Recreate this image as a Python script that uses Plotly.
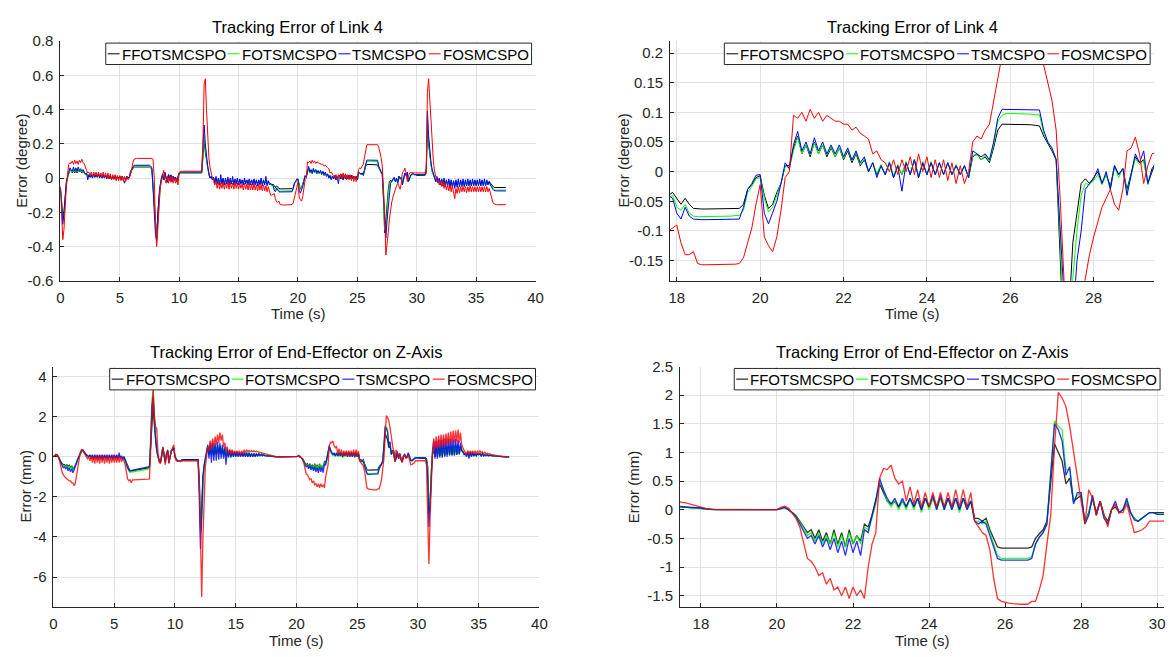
import numpy as np
import plotly.graph_objects as go

W, H = 1173, 657
FONT = "Liberation Sans, Arial, sans-serif"

# ---------------- data ----------------
# sampling instants (s), 0.0 ... 37.5 every 0.1 s
time_s = np.round(np.arange(376) * 0.1, 1)

series_names = ["FFOTSMCSPO", "FOTSMCSPO", "TSMCSPO", "FOSMCSPO"]
series_colors = ["#000000", "#00ff00", "#0000ff", "#ff0000"]

# Tracking error of link 4 (degree), one row per second
link4_ffotsmcspo = [
    -0.05, -0.15, -0.22, -0.20, -0.10, -0.03, 0.00, 0.02, 0.05, 0.04,
    0.03, 0.05, 0.03, 0.045, 0.03, 0.05, 0.035, 0.045, 0.03, 0.04,
    0.03, 0.02, 0.025, 0.01, 0.015, 0.005, 0.015, 0.005, 0.02, 0.005,
    0.015, 0.005, 0.02, 0.005, 0.015, 0.0, 0.015, 0.005, 0.015, 0.0,
    0.015, 0.0, 0.01, -0.005, 0.01, 0.0, 0.01, -0.005, 0.01, 0.0,
    0.01, -0.005, 0.01, -0.005, 0.005, -0.01, 0.01, 0.0, 0.005, 0.03,
    0.045, 0.055, 0.065, 0.065, 0.065, 0.065, 0.065, 0.065, 0.065, 0.065,
    0.065, 0.065, 0.065, 0.065, 0.065, 0.065, 0.06, 0.05, -0.05, -0.15,
    -0.28, -0.35, -0.2, -0.1, -0.05, 0.0, 0.02, -0.01, 0.03, 0.0,
    -0.02, 0.02, -0.01, 0.015, -0.02, 0.01, -0.01, 0.0, -0.02, 0.005,
    0.025, 0.03, 0.03, 0.03, 0.03, 0.03, 0.03, 0.03, 0.03, 0.03,
    0.03, 0.03, 0.03, 0.03, 0.03, 0.03, 0.03, 0.03, 0.03, 0.03,
    0.12, 0.22, 0.15, 0.1, 0.05, 0.02, 0.0, 0.01, -0.01, 0.0,
    -0.02, 0.0, -0.025, -0.005, -0.03, -0.01, -0.025, -0.005, -0.03, -0.01,
    -0.025, -0.005, -0.03, -0.01, -0.025, -0.01, -0.03, -0.01, -0.025, -0.01,
    -0.03, -0.01, -0.025, -0.015, -0.03, -0.01, -0.025, -0.015, -0.03, -0.01,
    -0.03, -0.015, -0.03, -0.01, -0.03, -0.015, -0.035, -0.015, -0.03, -0.01,
    -0.035, -0.015, -0.03, -0.015, -0.035, -0.02, -0.03, -0.035, -0.04, -0.035,
    -0.045, -0.055, -0.045, -0.055, -0.062, -0.063, -0.063, -0.063, -0.063, -0.063,
    -0.063, -0.063, -0.063, -0.063, -0.063, -0.062, -0.055, -0.03, -0.022, -0.01,
    -0.007, -0.04, -0.062, -0.055, -0.035, -0.02, 0.01, 0.01, 0.04, 0.06,
    0.03, 0.045, 0.025, 0.05, 0.03, 0.045, 0.025, 0.04, 0.025, 0.04,
    0.02, 0.035, 0.015, 0.03, 0.01, 0.02, 0.0, 0.015, -0.005, 0.01,
    -0.005, 0.015, -0.01, 0.01, -0.005, 0.015, -0.005, 0.02, -0.01, 0.015,
    -0.005, 0.015, -0.005, 0.015, -0.005, 0.015, -0.005, 0.01, -0.005, 0.01,
    -0.01, 0.025, 0.03, 0.02, 0.025, 0.015, 0.04, 0.07, 0.08, 0.08,
    0.08, 0.08, 0.08, 0.079, 0.079, 0.079, 0.078, 0.077, 0.06, 0.048,
    0.035, 0.02, -0.12, -0.32, -0.25, -0.12, -0.07, -0.02, -0.012, -0.02,
    -0.01, 0.0, -0.02, -0.005, -0.025, 0.01, -0.005, 0.005, -0.03, 0.0,
    0.025, 0.015, 0.02, -0.02, 0.005, 0.015, 0.02, 0.025, 0.02, 0.02,
    0.015, 0.015, 0.015, 0.015, 0.015, 0.015, 0.015, 0.015, 0.03, 0.28,
    0.2, 0.12, 0.08, 0.04, 0.02, 0.0, -0.02, 0.0, -0.025, -0.005,
    -0.03, -0.01, -0.03, -0.01, -0.035, -0.015, -0.035, -0.015, -0.04, -0.02,
    -0.04, -0.02, -0.045, -0.02, -0.04, -0.02, -0.04, -0.02, -0.04, -0.02,
    -0.04, -0.02, -0.04, -0.02, -0.04, -0.02, -0.04, -0.02, -0.035, -0.02,
    -0.04, -0.02, -0.035, -0.02, -0.04, -0.02, -0.035, -0.02, -0.04, -0.02,
    -0.035, -0.02, -0.03, -0.04, -0.05, -0.055, -0.055, -0.055, -0.055, -0.055,
    -0.055, -0.055, -0.055, -0.055, -0.055, -0.055,
]

link4_fotsmcspo = [
    -0.06, -0.17, -0.24, -0.22, -0.12, -0.04, 0.0, 0.03, 0.05, 0.045,
    0.035, 0.055, 0.035, 0.05, 0.035, 0.055, 0.04, 0.05, 0.035, 0.045,
    0.035, 0.02, 0.025, 0.01, 0.02, 0.005, 0.02, 0.005, 0.02, 0.005,
    0.02, 0.005, 0.02, 0.005, 0.015, 0.0, 0.015, 0.0, 0.015, 0.0,
    0.015, -0.005, 0.01, -0.005, 0.01, -0.005, 0.01, -0.005, 0.01, -0.005,
    0.01, -0.005, 0.01, -0.01, 0.005, -0.01, 0.01, 0.0, 0.005, 0.035,
    0.05, 0.06, 0.07, 0.07, 0.07, 0.07, 0.07, 0.07, 0.07, 0.07,
    0.07, 0.07, 0.07, 0.07, 0.07, 0.07, 0.065, 0.055, -0.05, -0.17,
    -0.3, -0.36, -0.25, -0.12, -0.06, -0.01, 0.02, -0.01, 0.03, 0.0,
    -0.02, 0.02, -0.01, 0.015, -0.02, 0.01, -0.01, 0.0, -0.02, 0.005,
    0.025, 0.032, 0.032, 0.032, 0.032, 0.032, 0.032, 0.032, 0.032, 0.032,
    0.032, 0.032, 0.032, 0.032, 0.032, 0.032, 0.032, 0.032, 0.032, 0.032,
    0.15, 0.25, 0.17, 0.11, 0.06, 0.03, 0.005, 0.005, -0.01, 0.0,
    -0.02, 0.0, -0.03, -0.005, -0.03, -0.01, -0.03, -0.005, -0.03, -0.01,
    -0.03, -0.005, -0.03, -0.01, -0.03, -0.01, -0.03, -0.01, -0.03, -0.01,
    -0.03, -0.01, -0.03, -0.015, -0.03, -0.01, -0.03, -0.015, -0.03, -0.01,
    -0.035, -0.015, -0.03, -0.01, -0.035, -0.015, -0.035, -0.015, -0.035, -0.01,
    -0.035, -0.015, -0.035, -0.015, -0.035, -0.02, -0.035, -0.04, -0.045, -0.04,
    -0.06, -0.065, -0.055, -0.07, -0.075, -0.076, -0.076, -0.076, -0.076, -0.075,
    -0.075, -0.075, -0.075, -0.075, -0.074, -0.074, -0.065, -0.035, -0.025, -0.012,
    -0.01, -0.045, -0.068, -0.06, -0.04, -0.02, 0.01, 0.005, 0.035, 0.058,
    0.03, 0.045, 0.028, 0.048, 0.03, 0.045, 0.028, 0.042, 0.025, 0.04,
    0.022, 0.038, 0.018, 0.032, 0.012, 0.022, 0.002, 0.015, -0.003, 0.012,
    -0.005, 0.017, -0.008, 0.012, -0.005, 0.017, -0.005, 0.02, -0.008, 0.017,
    -0.005, 0.017, -0.005, 0.015, -0.005, 0.015, -0.005, 0.012, -0.005, 0.01,
    -0.01, 0.028, 0.028, 0.02, 0.028, 0.018, 0.045, 0.085, 0.095, 0.098,
    0.098, 0.098, 0.098, 0.097, 0.097, 0.097, 0.096, 0.096, 0.065, 0.05,
    0.038, 0.022, -0.12, -0.3, -0.32, -0.18, -0.1, -0.04, -0.02, -0.022,
    -0.015, -0.005, -0.022, -0.005, -0.03, 0.008, -0.01, 0.005, -0.035, -0.005,
    0.022, 0.012, 0.018, -0.022, 0.0, 0.012, 0.018, 0.022, 0.02, 0.02,
    0.018, 0.018, 0.018, 0.018, 0.018, 0.018, 0.018, 0.018, 0.04, 0.34,
    0.22, 0.13, 0.08, 0.04, 0.02, 0.0, -0.02, 0.0, -0.025, -0.005,
    -0.035, -0.01, -0.035, -0.01, -0.04, -0.015, -0.04, -0.015, -0.045, -0.02,
    -0.045, -0.02, -0.05, -0.02, -0.045, -0.02, -0.045, -0.02, -0.045, -0.02,
    -0.045, -0.02, -0.045, -0.02, -0.045, -0.02, -0.045, -0.02, -0.04, -0.02,
    -0.045, -0.02, -0.04, -0.02, -0.045, -0.02, -0.04, -0.02, -0.045, -0.02,
    -0.04, -0.025, -0.035, -0.05, -0.06, -0.068, -0.07, -0.07, -0.07, -0.07,
    -0.07, -0.07, -0.07, -0.07, -0.07, -0.07,
]

link4_tsmcspo = [
    -0.06, -0.18, -0.27, -0.2, -0.1, -0.02, 0.01, 0.03, 0.06, 0.05,
    0.04, 0.065, 0.04, 0.06, 0.04, 0.065, 0.045, 0.055, 0.04, 0.05,
    0.04, 0.025, 0.03, -0.01, 0.02, 0.005, 0.02, 0.0, 0.025, 0.005,
    0.02, 0.005, 0.025, 0.0, 0.02, 0.0, 0.02, 0.0, 0.015, -0.005,
    0.015, -0.005, 0.015, -0.01, 0.01, -0.005, 0.015, -0.01, 0.01, -0.005,
    0.01, -0.01, 0.01, -0.01, -0.03, -0.005, 0.01, 0.0, 0.01, 0.04,
    0.055, 0.065, 0.075, 0.075, 0.075, 0.075, 0.075, 0.075, 0.075, 0.075,
    0.075, 0.075, 0.075, 0.075, 0.075, 0.075, 0.07, 0.06, -0.06, -0.2,
    -0.33, -0.37, -0.22, -0.1, -0.04, 0.0, 0.025, -0.01, 0.035, 0.0,
    -0.025, 0.02, -0.015, 0.02, -0.02, 0.01, -0.015, 0.005, -0.02, 0.01,
    0.03, 0.035, 0.035, 0.035, 0.035, 0.035, 0.035, 0.035, 0.035, 0.035,
    0.035, 0.035, 0.035, 0.035, 0.035, 0.035, 0.035, 0.035, 0.035, 0.035,
    0.2, 0.31, 0.2, 0.12, 0.07, 0.03, 0.0, 0.01, -0.01, 0.005,
    -0.03, 0.01, -0.035, 0.0, -0.04, 0.02, -0.035, 0.0, -0.04, 0.0,
    -0.035, 0.005, -0.04, 0.0, -0.035, 0.01, -0.04, -0.005, -0.035, 0.0,
    -0.04, -0.005, -0.035, -0.01, -0.04, 0.0, -0.035, -0.01, -0.04, -0.005,
    -0.04, -0.01, -0.04, -0.005, -0.04, -0.01, -0.045, -0.01, -0.04, 0.0,
    -0.045, -0.01, -0.04, 0.01, -0.045, -0.015, -0.04, -0.03, -0.04, -0.045,
    -0.07, -0.08, -0.06, -0.075, -0.08, -0.081, -0.081, -0.081, -0.081, -0.08,
    -0.08, -0.08, -0.08, -0.08, -0.08, -0.08, -0.06, -0.03, -0.02, -0.006,
    -0.005, -0.07, -0.088, -0.07, -0.05, -0.02, 0.015, 0.005, 0.045, 0.068,
    0.035, 0.05, 0.03, 0.057, 0.035, 0.05, 0.03, 0.045, 0.03, 0.045,
    0.025, 0.04, 0.02, 0.035, 0.015, 0.025, 0.0, 0.015, -0.01, 0.01,
    -0.005, 0.015, -0.01, 0.01, -0.033, 0.015, -0.005, 0.02, -0.01, 0.015,
    -0.005, 0.015, -0.005, 0.015, -0.005, 0.015, -0.005, 0.01, -0.005, 0.01,
    -0.01, 0.035, 0.03, 0.025, 0.03, 0.02, 0.05, 0.09, 0.105, 0.105,
    0.105, 0.105, 0.105, 0.105, 0.105, 0.105, 0.104, 0.104, 0.07, 0.05,
    0.04, 0.02, -0.1, -0.28, -0.35, -0.25, -0.15, -0.1, -0.03, -0.02,
    -0.012, 0.005, -0.02, 0.0, -0.03, 0.01, -0.005, 0.005, -0.04, -0.005,
    0.03, 0.015, 0.035, -0.02, 0.0, 0.02, 0.025, 0.025, 0.02, 0.02,
    0.02, 0.02, 0.02, 0.02, 0.02, 0.02, 0.02, 0.02, 0.05, 0.39,
    0.25, 0.14, 0.09, 0.05, 0.02, 0.005, -0.02, 0.01, -0.03, 0.0,
    -0.04, -0.005, -0.045, 0.0, -0.05, -0.01, -0.05, -0.005, -0.055, -0.01,
    -0.06, -0.015, -0.06, -0.01, -0.055, -0.005, -0.05, -0.01, -0.05, -0.005,
    -0.05, -0.01, -0.045, -0.005, -0.045, -0.01, -0.045, -0.005, -0.045, -0.01,
    -0.045, -0.01, -0.045, -0.005, -0.045, -0.01, -0.045, -0.005, -0.045, -0.01,
    -0.04, -0.02, -0.04, -0.055, -0.065, -0.072, -0.075, -0.075, -0.075, -0.075,
    -0.075, -0.075, -0.075, -0.075, -0.075, -0.075,
]

link4_fosmcspo = [
    -0.06, -0.25, -0.36, -0.3, -0.15, -0.05, 0.02, 0.08, 0.09, 0.085,
    0.1, 0.08, 0.105, 0.085, 0.1, 0.08, 0.105, 0.09, 0.11, 0.09,
    0.085, 0.06, 0.045, 0.03, 0.035, 0.015, 0.035, 0.01, 0.035, 0.015,
    0.035, 0.01, 0.035, 0.01, 0.03, 0.005, 0.035, 0.005, 0.03, 0.0,
    0.03, -0.005, 0.025, -0.01, 0.02, -0.01, 0.02, -0.015, 0.015, -0.015,
    0.015, -0.015, 0.01, -0.02, 0.01, -0.02, 0.005, -0.01, 0.0, 0.02,
    0.06, 0.09, 0.11, 0.115, 0.115, 0.115, 0.115, 0.115, 0.115, 0.115,
    0.115, 0.115, 0.115, 0.115, 0.115, 0.115, 0.115, 0.115, 0.11, 0.0,
    -0.25, -0.4, -0.3, -0.15, -0.06, -0.02, 0.02, 0.045, -0.01, -0.03,
    0.01, -0.03, 0.015, -0.025, 0.01, -0.03, 0.005, -0.03, 0.0, -0.04,
    0.035, 0.04, 0.04, 0.04, 0.04, 0.04, 0.04, 0.04, 0.04, 0.04,
    0.04, 0.04, 0.04, 0.04, 0.04, 0.04, 0.04, 0.04, 0.04, 0.05,
    0.2, 0.55, 0.58, 0.4, 0.25, 0.12, 0.06, 0.02, 0.0, -0.02,
    -0.04, -0.02, -0.06, -0.02, -0.065, -0.03, -0.06, -0.025, -0.065, -0.03,
    -0.06, -0.02, -0.065, -0.025, -0.06, -0.03, -0.065, -0.025, -0.06, -0.03,
    -0.065, -0.03, -0.06, -0.035, -0.07, -0.03, -0.065, -0.035, -0.07, -0.03,
    -0.07, -0.035, -0.07, -0.03, -0.07, -0.04, -0.075, -0.035, -0.07, -0.04,
    -0.075, -0.04, -0.075, -0.045, -0.08, -0.05, -0.08, -0.1, -0.1, -0.095,
    -0.09, -0.12, -0.14, -0.14, -0.135, -0.155, -0.157, -0.157, -0.157, -0.157,
    -0.157, -0.156, -0.156, -0.156, -0.156, -0.155, -0.145, -0.12, -0.095, -0.055,
    -0.022, -0.11, -0.125, -0.135, -0.11, -0.065, -0.01, 0.0, 0.095, 0.09,
    0.1, 0.085, 0.105, 0.09, 0.1, 0.085, 0.095, 0.09, 0.085, 0.085,
    0.08, 0.08, 0.07, 0.075, 0.065, 0.06, 0.055, 0.03, 0.035, 0.02,
    0.015, 0.0, 0.02, -0.005, 0.02, 0.0, 0.025, -0.005, 0.03, 0.0,
    0.025, -0.01, 0.02, -0.01, 0.02, -0.015, 0.015, -0.02, 0.01, -0.02,
    0.0, 0.05, 0.06, 0.055, 0.07, 0.08, 0.12, 0.16, 0.195, 0.195,
    0.195, 0.195, 0.195, 0.195, 0.195, 0.195, 0.195, 0.195, 0.18, 0.15,
    0.12, 0.07, -0.05, -0.2, -0.45, -0.4, -0.32, -0.24, -0.18, -0.14,
    -0.11, -0.085, -0.06, -0.045, -0.03, -0.055, -0.065, -0.03, 0.035, 0.04,
    0.058, 0.03, -0.02, 0.01, 0.03, 0.032, 0.03, 0.03, 0.03, 0.03,
    0.03, 0.03, 0.03, 0.03, 0.03, 0.03, 0.03, 0.03, 0.06, 0.5,
    0.58, 0.45, 0.3, 0.18, 0.1, 0.04, 0.0, -0.02, -0.01, -0.04,
    -0.02, -0.05, -0.02, -0.06, -0.03, -0.07, -0.04, -0.075, -0.04, -0.08,
    -0.045, -0.09, -0.12, -0.06, -0.09, -0.05, -0.085, -0.05, -0.08, -0.05,
    -0.08, -0.05, -0.085, -0.05, -0.08, -0.045, -0.08, -0.05, -0.08, -0.05,
    -0.08, -0.05, -0.08, -0.05, -0.08, -0.05, -0.08, -0.05, -0.08, -0.05,
    -0.08, -0.06, -0.09, -0.12, -0.14, -0.15, -0.155, -0.155, -0.155, -0.155,
    -0.155, -0.155, -0.155, -0.155, -0.155, -0.155,
]

# Tracking error of end-effector on Z axis (mm), one row per second
z_ffotsmcspo = [
    0.0, 0.05, 0.1, 0.08, 0.0, -0.1, -0.25, -0.35, -0.4, -0.4,
    -0.45, -0.4, -0.5, -0.42, -0.55, -0.45, -0.6, -0.55, -0.4, -0.25,
    -0.1, 0.05, 0.15, 0.25, 0.3, 0.25, 0.15, 0.1, 0.05, 0.0,
    0.05, -0.05, 0.05, -0.08, 0.05, -0.05, 0.05, -0.08, 0.05, -0.05,
    0.05, -0.08, 0.05, -0.05, 0.05, -0.08, 0.05, -0.05, 0.05, -0.08,
    0.05, -0.05, 0.05, -0.08, 0.05, -0.05, 0.0, -0.1, 0.0, -0.15,
    -0.3, -0.5, -0.65, -0.72, -0.72, -0.7, -0.7, -0.68, -0.67, -0.66,
    -0.65, -0.64, -0.63, -0.62, -0.61, -0.6, -0.58, -0.57, -0.56, -0.5,
    0.5, 2.0, 2.6, 1.6, 0.9, 0.3, 0.0, -0.2, -0.3, 0.0,
    0.45, 0.1, -0.25, 0.1, 0.3, -0.3, 0.0, 0.3, 0.35, 0.45,
    0.0, -0.15, -0.2, -0.2, -0.2, -0.2, -0.15, -0.15, -0.15, -0.15,
    -0.15, -0.15, -0.15, -0.15, -0.15, -0.15, -0.15, -0.15, -0.15, -0.15,
    -1.2, -3.6, -2.5, -1.0, -0.5, -0.1, 0.2, 0.5, 0.1, 0.5,
    0.1, 0.5, 0.1, 0.5, 0.1, 0.55, 0.15, 0.5, 0.15, 0.45,
    0.1, 0.35, 0.05, 0.3, 0.05, 0.25, 0.05, 0.2, 0.05, 0.2,
    0.05, 0.2, 0.05, 0.2, 0.05, 0.2, 0.05, 0.2, 0.05, 0.15,
    0.05, 0.15, 0.05, 0.15, 0.05, 0.15, 0.05, 0.15, 0.05, 0.15,
    0.08, 0.12, 0.08, 0.1, 0.06, 0.05, 0.04, 0.04, 0.03, 0.03,
    0.02, 0.01, 0.01, 0.0, 0.0, 0.0, 0.0, 0.0, 0.0, 0.0,
    0.0, 0.0, 0.0, 0.0, 0.0, 0.0, 0.0, 0.0, 0.0, 0.0,
    0.0, 0.02, 0.04, 0.0, -0.05, -0.1, -0.2, -0.3, -0.4, -0.35,
    -0.5, -0.35, -0.55, -0.4, -0.6, -0.35, -0.6, -0.4, -0.65, -0.35,
    -0.6, -0.45, -0.55, -0.25, -0.3, -0.1, 0.15, 0.45, 0.3, 0.15,
    0.1, 0.15, 0.05, 0.15, 0.05, 0.2, 0.05, 0.2, 0.0, 0.2,
    0.05, 0.2, 0.05, 0.2, 0.05, 0.2, 0.05, 0.2, 0.0, 0.2,
    0.05, 0.15, -0.15, -0.15, -0.2, -0.15, -0.35, -0.5, -0.65, -0.67,
    -0.67, -0.67, -0.67, -0.67, -0.67, -0.67, -0.67, -0.65, -0.5, -0.42,
    -0.35, -0.2, 0.5, 1.15, 1.0, 0.85, 0.45, 0.55, 0.15, 0.2,
    0.25, -0.2, -0.05, 0.2, -0.05, 0.15, -0.1, -0.2, 0.0, 0.05,
    -0.05, 0.0, 0.15, -0.05, -0.15, -0.2, -0.15, -0.1, -0.05, -0.05,
    -0.05, -0.05, -0.05, -0.05, -0.05, -0.05, -0.05, -0.1, -0.5, -2.8,
    -2.5, -0.8, 0.1, 0.4, 0.0, 0.4, 0.0, 0.45, 0.05, 0.45,
    0.05, 0.45, 0.05, 0.45, 0.1, 0.5, 0.1, 0.5, 0.1, 0.5,
    0.1, 0.55, 0.1, 0.55, 0.15, 0.5, 0.3, 0.25, 0.15, 0.1,
    0.1, 0.2, 0.05, 0.2, 0.05, 0.15, 0.05, 0.15, 0.05, 0.15,
    0.1, 0.15, 0.05, 0.15, 0.05, 0.1, 0.05, 0.1, 0.05, 0.08,
    0.05, 0.06, 0.04, 0.04, 0.03, 0.03, 0.02, 0.02, 0.01, 0.01,
    0.01, 0.0, 0.0, 0.0, 0.0, 0.0,
]

z_fotsmcspo = [
    0.0, 0.05, 0.1, 0.08, 0.0, -0.12, -0.28, -0.38, -0.45, -0.45,
    -0.5, -0.45, -0.55, -0.45, -0.6, -0.5, -0.65, -0.6, -0.45, -0.25,
    -0.1, 0.05, 0.15, 0.25, 0.3, 0.25, 0.15, 0.1, 0.05, 0.0,
    0.05, -0.05, 0.05, -0.1, 0.05, -0.05, 0.05, -0.1, 0.05, -0.05,
    0.05, -0.1, 0.05, -0.05, 0.05, -0.1, 0.05, -0.05, 0.05, -0.1,
    0.05, -0.05, 0.05, -0.1, 0.05, -0.05, 0.0, -0.1, 0.0, -0.15,
    -0.35, -0.55, -0.72, -0.78, -0.77, -0.76, -0.75, -0.74, -0.73, -0.72,
    -0.71, -0.7, -0.69, -0.68, -0.67, -0.66, -0.65, -0.64, -0.62, -0.55,
    0.8, 2.8, 3.3, 1.8, 1.0, 0.3, 0.0, -0.2, -0.3, 0.0,
    0.45, 0.1, -0.3, 0.1, 0.3, -0.3, 0.0, 0.3, 0.35, 0.45,
    0.0, -0.15, -0.2, -0.2, -0.2, -0.2, -0.18, -0.18, -0.18, -0.18,
    -0.18, -0.18, -0.18, -0.18, -0.18, -0.18, -0.18, -0.18, -0.18, -0.18,
    -1.5, -3.8, -3.0, -1.2, -0.5, -0.1, 0.2, 0.5, 0.05, 0.6,
    0.05, 0.6, 0.05, 0.6, 0.1, 0.6, 0.1, 0.55, 0.1, 0.5,
    0.05, 0.4, 0.0, 0.35, 0.0, 0.3, 0.0, 0.25, 0.0, 0.2,
    0.05, 0.2, 0.05, 0.2, 0.05, 0.2, 0.05, 0.2, 0.05, 0.2,
    0.05, 0.2, 0.05, 0.15, 0.05, 0.15, 0.05, 0.15, 0.05, 0.15,
    0.08, 0.12, 0.06, 0.1, 0.05, 0.05, 0.04, 0.04, 0.03, 0.03,
    0.02, 0.01, 0.01, 0.0, 0.0, 0.0, 0.0, 0.0, 0.0, 0.0,
    0.0, 0.0, 0.0, 0.0, 0.0, 0.0, 0.0, 0.0, 0.0, 0.0,
    0.0, 0.02, 0.04, 0.0, -0.05, -0.1, -0.22, -0.32, -0.45, -0.4,
    -0.55, -0.4, -0.6, -0.45, -0.6, -0.4, -0.65, -0.45, -0.65, -0.4,
    -0.6, -0.45, -0.6, -0.3, -0.35, -0.15, 0.1, 0.5, 0.35, 0.15,
    0.05, 0.15, 0.0, 0.15, 0.0, 0.2, 0.0, 0.2, -0.05, 0.2,
    0.0, 0.2, 0.0, 0.2, 0.0, 0.2, 0.0, 0.2, -0.05, 0.2,
    0.0, 0.15, -0.2, -0.2, -0.25, -0.2, -0.4, -0.6, -0.8, -0.85,
    -0.85, -0.85, -0.85, -0.85, -0.85, -0.85, -0.85, -0.82, -0.6, -0.48,
    -0.4, -0.25, 0.6, 1.55, 1.45, 1.4, 0.7, 0.7, 0.15, 0.25,
    0.3, -0.25, -0.05, 0.25, -0.1, 0.15, -0.1, -0.25, 0.0, 0.1,
    -0.05, 0.0, 0.15, -0.05, -0.15, -0.2, -0.15, -0.1, -0.05, -0.05,
    -0.08, -0.08, -0.08, -0.08, -0.08, -0.08, -0.08, -0.15, -0.6, -2.8,
    -2.0, -0.6, 0.2, 0.5, 0.0, 0.55, 0.05, 0.55, 0.05, 0.6,
    0.05, 0.6, 0.05, 0.6, 0.1, 0.6, 0.1, 0.65, 0.1, 0.65,
    0.1, 0.65, 0.15, 0.6, 0.15, 0.55, 0.35, 0.25, 0.15, 0.1,
    0.1, 0.25, 0.05, 0.2, 0.05, 0.2, 0.05, 0.15, 0.05, 0.15,
    0.1, 0.15, 0.05, 0.15, 0.05, 0.1, 0.05, 0.1, 0.05, 0.08,
    0.05, 0.06, 0.04, 0.04, 0.03, 0.03, 0.02, 0.02, 0.01, 0.01,
    0.01, 0.0, 0.0, 0.0, 0.0, 0.0,
]

z_tsmcspo = [
    0.0, 0.05, 0.1, 0.08, 0.0, -0.15, -0.3, -0.45, -0.55, -0.5,
    -0.6, -0.5, -0.7, -0.55, -0.75, -0.6, -0.8, -0.65, -0.5, -0.3,
    -0.1, 0.05, 0.2, 0.3, 0.35, 0.25, 0.15, 0.1, 0.05, 0.0,
    0.1, -0.1, 0.1, -0.15, 0.1, -0.1, 0.1, -0.15, 0.1, -0.1,
    0.1, -0.15, 0.1, -0.1, 0.1, -0.15, 0.1, -0.1, 0.1, -0.15,
    0.1, -0.1, 0.1, -0.15, 0.2, -0.1, 0.05, -0.15, 0.0, -0.2,
    -0.4, -0.55, -0.65, -0.7, -0.68, -0.67, -0.66, -0.65, -0.64, -0.63,
    -0.62, -0.61, -0.6, -0.59, -0.58, -0.57, -0.56, -0.55, -0.54, -0.5,
    0.7, 2.5, 3.0, 1.6, 0.9, 0.3, 0.0, -0.25, -0.3, 0.05,
    0.45, 0.1, -0.3, 0.15, 0.35, -0.3, 0.0, 0.3, 0.35, 0.45,
    0.0, -0.15, -0.2, -0.2, -0.2, -0.2, -0.15, -0.15, -0.15, -0.15,
    -0.15, -0.15, -0.15, -0.15, -0.15, -0.15, -0.15, -0.15, -0.15, -0.15,
    -2.0, -4.6, -3.0, -1.0, -0.4, -0.1, 0.3, 0.6, -0.1, 0.7,
    -0.3, 0.7, -0.2, 0.7, -0.2, 0.75, -0.15, 0.7, -0.1, 0.6,
    -0.1, 0.5, -0.4, 0.4, -0.05, 0.35, -0.05, 0.3, 0.0, 0.25,
    0.0, 0.25, 0.0, 0.2, 0.0, 0.2, 0.0, 0.2, 0.0, 0.2,
    0.0, 0.2, 0.0, 0.15, 0.0, 0.15, 0.0, 0.15, 0.02, 0.15,
    0.05, 0.12, 0.05, 0.1, 0.05, 0.05, 0.04, 0.04, 0.04, 0.04,
    0.03, 0.02, 0.01, 0.0, 0.0, 0.0, 0.0, 0.0, 0.0, 0.0,
    0.0, 0.0, 0.0, 0.0, 0.0, 0.0, 0.0, 0.0, 0.0, 0.0,
    0.0, 0.02, 0.04, 0.0, -0.05, -0.12, -0.25, -0.38, -0.5, -0.45,
    -0.6, -0.45, -0.65, -0.5, -0.7, -0.5, -0.75, -0.55, -0.8, -0.5,
    -0.75, -0.55, -0.8, -0.35, -0.4, -0.1, 0.15, 0.55, 0.35, 0.2,
    0.1, 0.2, 0.05, 0.2, 0.05, 0.2, 0.05, 0.2, 0.0, 0.2,
    0.05, 0.25, 0.0, 0.25, 0.0, 0.2, 0.0, 0.2, 0.0, 0.2,
    0.0, 0.15, -0.2, -0.25, -0.2, -0.25, -0.45, -0.65, -0.85, -0.88,
    -0.88, -0.88, -0.88, -0.88, -0.88, -0.88, -0.88, -0.85, -0.6, -0.48,
    -0.4, -0.25, 0.55, 1.5, 1.4, 1.2, 0.6, 0.75, 0.1, 0.3,
    0.3, -0.25, -0.1, 0.25, -0.1, 0.15, -0.15, -0.25, 0.0, 0.15,
    -0.05, 0.0, 0.2, -0.05, -0.18, -0.2, -0.15, -0.1, -0.05, -0.05,
    -0.08, -0.08, -0.08, -0.08, -0.08, -0.08, -0.08, -0.2, -1.0, -3.5,
    -2.0, -0.5, 0.3, 0.8, -0.1, 0.8, -0.1, 0.85, -0.05, 0.85,
    -0.05, 0.9, 0.0, 0.9, 0.0, 0.9, 0.05, 0.9, 0.05, 0.9,
    0.05, 0.9, 0.1, 0.85, 0.1, 0.7, 0.3, 0.25, 0.1, 0.15,
    0.0, 0.25, -0.1, 0.25, 0.0, 0.2, 0.05, 0.15, 0.05, 0.15,
    0.1, 0.15, 0.05, 0.15, 0.05, 0.1, 0.05, 0.1, 0.05, 0.08,
    0.05, 0.06, 0.04, 0.04, 0.03, 0.03, 0.02, 0.02, 0.01, 0.01,
    0.01, 0.0, 0.0, 0.0, 0.0, 0.0,
]

z_fosmcspo = [
    0.0, 0.05, 0.12, 0.1, 0.0, -0.2, -0.5, -0.75, -0.9, -1.0,
    -1.05, -1.1, -1.15, -1.2, -1.2, -1.3, -1.3, -1.45, -1.3, -0.9,
    -0.4, 0.0, 0.2, 0.35, 0.35, 0.2, 0.1, 0.05, -0.1, 0.0,
    -0.2, 0.05, -0.3, 0.05, -0.35, 0.05, -0.3, 0.05, -0.35, 0.05,
    -0.3, 0.05, -0.35, 0.0, -0.3, 0.05, -0.35, 0.0, -0.3, 0.05,
    -0.3, 0.0, -0.3, 0.05, -0.3, 0.0, -0.25, -0.1, -0.2, -0.4,
    -0.8, -1.1, -1.2, -1.15, -1.3, -1.15, -1.15, -1.15, -1.15, -1.15,
    -1.15, -1.15, -1.15, -1.15, -1.15, -1.15, -1.15, -1.15, -1.12, -1.1,
    0.5, 2.5, 3.4, 2.0, 1.5, 1.4, 0.2, -0.2, -0.35, 0.0,
    0.5, 0.1, -0.4, 0.1, 0.3, -0.35, 0.1, 0.3, 0.45, 0.6,
    0.0, -0.2, -0.2, -0.2, -0.2, -0.2, -0.2, -0.2, -0.2, -0.2,
    -0.2, -0.2, -0.2, -0.2, -0.2, -0.2, -0.2, -0.2, -0.2, -0.2,
    -1.0, -4.5, -7.0, -4.0, -1.5, -0.5, 0.0, 0.5, 0.3, 0.8,
    0.4, 0.9, 0.5, 1.0, 0.6, 1.1, 0.7, 1.2, 0.8, 1.1,
    0.5, 0.7, 0.3, 0.5, 0.15, 0.35, 0.15, 0.35, 0.15, 0.3,
    0.15, 0.3, 0.15, 0.3, 0.15, 0.3, 0.15, 0.35, 0.2, 0.35,
    0.25, 0.3, 0.25, 0.3, 0.25, 0.3, 0.25, 0.28, 0.25, 0.25,
    0.22, 0.2, 0.19, 0.17, 0.15, 0.13, 0.12, 0.1, 0.08, 0.06,
    0.04, 0.03, 0.01, 0.005, 0.0, 0.0, 0.0, 0.0, 0.0, 0.0,
    0.0, 0.0, 0.0, 0.0, 0.0, 0.0, 0.0, 0.0, 0.0, 0.0,
    0.0, 0.04, 0.06, 0.03, -0.05, -0.15, -0.3, -0.6, -0.85, -0.9,
    -1.0, -1.15, -1.1, -1.3, -1.2, -1.4, -1.35, -1.5, -1.35, -1.55,
    -1.35, -1.5, -1.4, -1.55, -1.0, -0.6, -0.4, 0.55, 0.72, 0.7,
    0.78, 0.55, 0.45, 0.5, 0.15, 0.4, 0.1, 0.35, 0.05, 0.3,
    0.05, 0.3, 0.05, 0.3, 0.05, 0.3, 0.05, 0.35, 0.05, 0.35,
    0.05, 0.3, -0.2, -0.3, -0.4, -0.45, -0.7, -1.2, -1.55, -1.6,
    -1.62, -1.63, -1.64, -1.65, -1.65, -1.65, -1.65, -1.6, -1.6, -1.4,
    -1.15, -0.6, -0.1, 1.1, 2.05, 1.95, 1.8, 1.45, 1.0, 0.6,
    0.15, -0.25, 0.35, 0.2, -0.1, 0.15, -0.1, -0.3, 0.0, 0.1,
    -0.05, -0.05, 0.1, -0.15, -0.4, -0.38, -0.35, -0.3, -0.2, -0.2,
    -0.2, -0.2, -0.2, -0.2, -0.2, -0.2, -0.2, -0.4, -2.5, -5.35,
    -3.0, -1.0, 0.3, 0.9, 0.4, 1.0, 0.4, 1.05, 0.45, 1.1,
    0.5, 1.1, 0.55, 1.15, 0.6, 1.2, 0.6, 1.25, 0.65, 1.3,
    0.7, 1.3, 0.75, 1.35, 0.7, 1.2, 0.6, 0.45, 0.3, 0.2,
    0.15, 0.3, 0.1, 0.3, 0.15, 0.3, 0.15, 0.3, 0.15, 0.3,
    0.2, 0.3, 0.2, 0.25, 0.15, 0.22, 0.15, 0.18, 0.12, 0.15,
    0.12, 0.1, 0.1, 0.08, 0.06, 0.05, 0.04, 0.03, 0.02, 0.01,
    0.01, 0.0, 0.0, 0.0, 0.0, 0.0,
]

link4_series = [link4_ffotsmcspo, link4_fotsmcspo, link4_tsmcspo, link4_fosmcspo]
z_series = [z_ffotsmcspo, z_fotsmcspo, z_tsmcspo, z_fosmcspo]

# tick values / labels
x_full_ticks = [0, 5, 10, 15, 20, 25, 30, 35, 40]
x_full_text = ["0", "5", "10", "15", "20", "25", "30", "35", "40"]
x_link_zoom_ticks = [18, 20, 22, 24, 26, 28]
x_link_zoom_text = ["18", "20", "22", "24", "26", "28"]
x_z_zoom_ticks = [18, 20, 22, 24, 26, 28, 30]
x_z_zoom_text = ["18", "20", "22", "24", "26", "28", "30"]
y_link_full_ticks = [-0.6, -0.4, -0.2, 0, 0.2, 0.4, 0.6, 0.8]
y_link_full_text = ["-0.6", "-0.4", "-0.2", "0", "0.2", "0.4", "0.6", "0.8"]
y_link_zoom_ticks = [-0.15, -0.1, -0.05, 0, 0.05, 0.1, 0.15, 0.2]
y_link_zoom_text = ["-0.15", "-0.1", "-0.05", "0", "0.05", "0.1", "0.15", "0.2"]
y_z_full_ticks = [-6, -4, -2, 0, 2, 4]
y_z_full_text = ["-6", "-4", "-2", "0", "2", "4"]
y_z_zoom_ticks = [-1.5, -1, -0.5, 0, 0.5, 1, 1.5, 2, 2.5]
y_z_zoom_text = ["-1.5", "-1", "-0.5", "0", "0.5", "1", "1.5", "2", "2.5"]

# ---------------- layout helpers ----------------
def fx(px):
    return px / W


def fy(py):
    return 1 - py / H


panels = [
    dict(ax="", box=(57, 537, 33, 279), xr=[0, 40], yr=[-0.6, 0.8],
         xt=(x_full_ticks, x_full_text), yt=(y_link_full_ticks, y_link_full_text),
         data=link4_series, title="Tracking Error of Link 4", ylab="Error (degree)",
         ylab_x=18, lw=1.0, op=1.0),
    dict(ax="2", box=(673, 1162, 33, 279), xr=[17.84, 29.45], yr=[-0.184, 0.22],
         xt=(x_link_zoom_ticks, x_link_zoom_text), yt=(y_link_zoom_ticks, y_link_zoom_text),
         data=link4_series, title="Tracking Error of Link 4", ylab="Error (degree)",
         ylab_x=626, lw=1.0, op=1.0),
    dict(ax="3", box=(50, 541, 367, 614), xr=[0, 40], yr=[-7.5, 4.5],
         xt=(x_full_ticks, x_full_text), yt=(y_z_full_ticks, y_z_full_text),
         data=z_series, title="Tracking Error of End-Effector on Z-Axis", ylab="Error (mm)",
         ylab_x=22, lw=1.3, op=0.8),
    dict(ax="4", box=(683, 1172, 367, 614), xr=[17.45, 30.18], yr=[-1.7, 2.5],
         xt=(x_z_zoom_ticks, x_z_zoom_text), yt=(y_z_zoom_ticks, y_z_zoom_text),
         data=z_series, title="Tracking Error of End-Effector on Z-Axis", ylab="Error (mm)",
         ylab_x=636, lw=1.3, op=0.8),
]

fig = go.Figure()

axis_common = dict(
    showline=True, linecolor="#262626", linewidth=1, mirror=False,
    ticks="inside", ticklen=4, tickcolor="#262626", tickwidth=1,
    showgrid=True, gridcolor="#e2e2e2", gridwidth=1, zeroline=False,
    tickfont=dict(family=FONT, size=15, color="#262626"), tickmode="array",
)

annotations = []
shapes = []

CHAR_EM = {"F": 0.611, "O": 0.778, "T": 0.611, "S": 0.667, "M": 0.833, "C": 0.722, "P": 0.667}
LEG_FONT = 15


def text_w(s, size):
    return sum(CHAR_EM.get(c, 0.6) for c in s) * size


for p in panels:
    ax = p["ax"]
    xname = "x" + ax
    yname = "y" + ax
    for name, color, vals in zip(series_names, series_colors, p["data"]):
        fig.add_trace(go.Scatter(
            x=time_s[:len(vals)], y=vals, mode="lines", name=name,
            line=dict(color=color, width=p["lw"]), opacity=p["op"],
            xaxis=xname, yaxis=yname, showlegend=False, hoverinfo="skip",
        ))
    x0, x1, y0, y1 = p["box"]
    fig.update_layout(**{
        "xaxis" + ax: dict(axis_common, domain=[fx(x0), fx(x1)], range=p["xr"],
                           tickvals=p["xt"][0], ticktext=p["xt"][1], anchor=yname,
                           ticklabelstandoff=3),
        "yaxis" + ax: dict(axis_common, domain=[fy(y1), fy(y0)], range=p["yr"],
                           tickvals=p["yt"][0], ticktext=p["yt"][1], anchor=xname,
                           ticklabelstandoff=3),
    })
    cx = (x0 + x1) / 2
    annotations.append(dict(text=p["title"], x=fx(cx), y=fy(y0 - 15), xref="paper", yref="paper",
                            xanchor="center", yanchor="middle", showarrow=False,
                            font=dict(family=FONT, size=16.5, color="#000000")))
    annotations.append(dict(text="Time (s)", x=fx(cx), y=fy(y1 + 34), xref="paper", yref="paper",
                            xanchor="center", yanchor="middle", showarrow=False,
                            font=dict(family=FONT, size=15, color="#262626")))
    annotations.append(dict(text=p["ylab"], x=fx(p["ylab_x"]), y=fy((y0 + y1) / 2), xref="paper",
                            yref="paper", xanchor="center", yanchor="middle", showarrow=False,
                            textangle=-90, font=dict(family=FONT, size=15, color="#262626")))

    # legend box in the upper right corner of each axes
    pad, line_len, gap_lt, gap_item = 1, 12, 2, 3
    widths = [text_w(n, LEG_FONT) for n in series_names]
    total = 2 * pad + 4 * (line_len + gap_lt) + sum(widths) + 3 * gap_item + 4
    lr = x1 - 4
    ll = lr - total
    lt = y0 + 2
    lh = 22
    shapes.append(dict(type="rect", xref="paper", yref="paper", x0=fx(ll), x1=fx(lr),
                       y0=fy(lt + lh), y1=fy(lt), line=dict(color="#262626", width=1),
                       fillcolor="white", layer="above"))
    cur = ll + pad + 1
    yc = lt + lh / 2
    for name, color, w in zip(series_names, series_colors, widths):
        shapes.append(dict(type="line", xref="paper", yref="paper", x0=fx(cur), x1=fx(cur + line_len),
                           y0=fy(yc), y1=fy(yc), line=dict(color=color, width=p["lw"]),
                           opacity=p["op"], layer="above"))
        annotations.append(dict(text=name, x=fx(cur + line_len + gap_lt - 1), y=fy(yc + 0.5),
                                xref="paper", yref="paper", xanchor="left", yanchor="middle",
                                showarrow=False, borderpad=0,
                                font=dict(family=FONT, size=LEG_FONT, color="#000000")))
        cur += line_len + gap_lt + w + gap_item

fig.update_layout(
    width=W, height=H, margin=dict(l=0, r=0, t=0, b=0),
    paper_bgcolor="white", plot_bgcolor="white",
    font=dict(family=FONT, size=15, color="#262626"),
    showlegend=False, annotations=annotations, shapes=shapes,
)

fig.write_html("out.html")
